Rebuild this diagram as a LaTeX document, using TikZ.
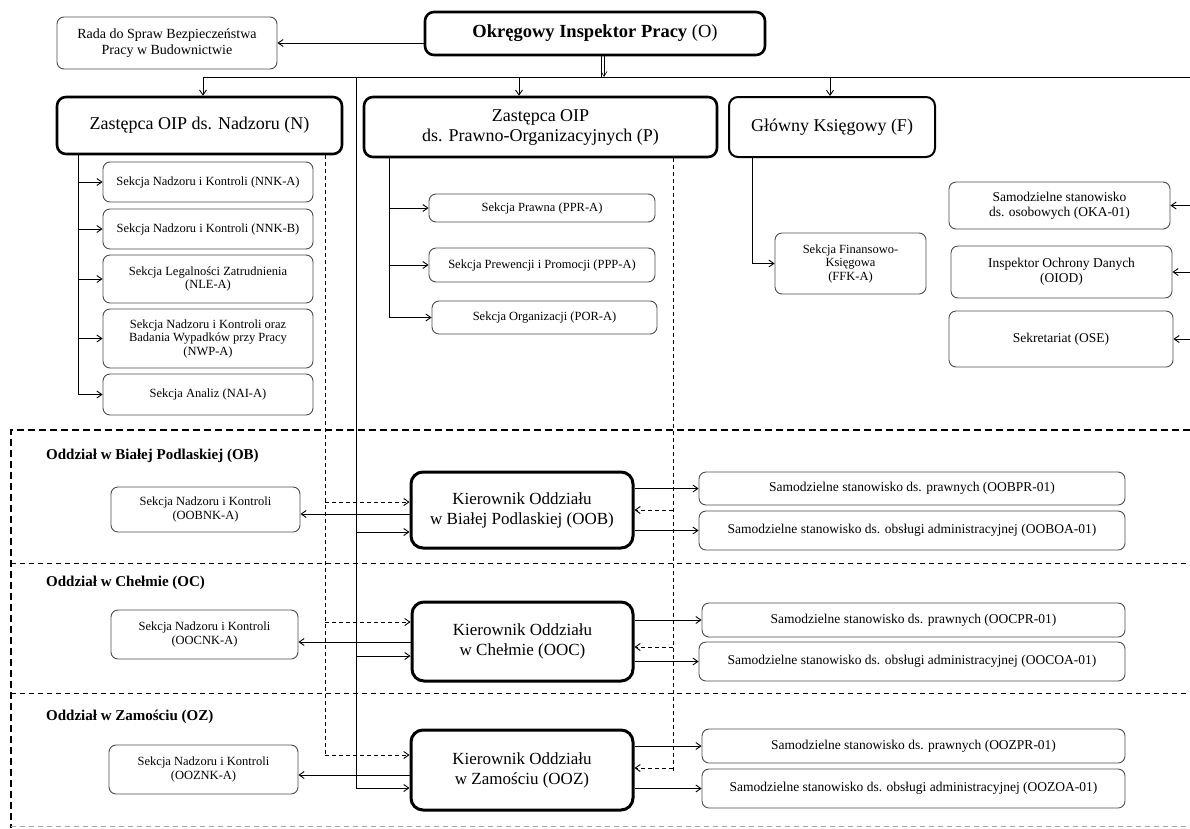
\documentclass[tikz,border=0pt]{standalone}
\usepackage{fontspec}
\setmainfont{Liberation Serif}
\usetikzlibrary{arrows.meta}

\begin{document}
\begin{tikzpicture}[
    x=1pt, y=-1pt,
    wym/.style 2 args={minimum width=#1pt, minimum height=#2pt},
    ramka/.style={draw, line width=2.6pt, rounded corners=9pt, align=center, inner sep=2pt},
    komorka/.style={draw=black!70, line width=0.9pt, rounded corners=7pt, align=center,
      inner sep=2pt, font=\fontsize{12.5}{13.5}\selectfont},
    stanowisko/.style={komorka, font=\fontsize{13.5}{15}\selectfont},
    kierownik/.style={ramka, line width=3pt, rounded corners=12pt, font=\fontsize{17}{20}\selectfont},
    linia/.style={line width=0.9pt},
    strzalka/.style={linia, -{Straight Barb[length=5pt,width=7pt]}},
    kreski/.style={dash pattern=on 4pt off 3pt},
    granica/.style={line width=1.5pt, dash pattern=on 7pt off 4pt},
    podzial/.style={line width=0.9pt, dash pattern=on 5pt off 4pt},
    oddzial/.style={anchor=west, inner sep=0pt, font=\fontsize{15}{17}\selectfont\bfseries}
  ]
  \useasboundingbox (0,0) rectangle (1190,828);
  % wszystkie współrzędne w pikselach obrazu (oś y w dół)

  % --- kierownictwo ---
  \node[ramka, wym={340}{43}, font=\fontsize{18.5}{20}\selectfont] (O) at (595,33.5)
    {\textbf{Okręgowy Inspektor Pracy} (O)};
  \node[komorka, wym={220}{52}, font=\fontsize{14}{15.5}\selectfont] (RADA) at (167,43)
    {Rada do Spraw Bezpieczeństwa\\Pracy w Budownictwie};
  \node[ramka, wym={285}{57}, font=\fontsize{18}{20}\selectfont] (N) at (199.5,125.5)
    {Zastępca OIP ds. Nadzoru (N)};
  \node[ramka, wym={353}{60}, font=\fontsize{18}{20}\selectfont] (P) at (540.5,127)
    {Zastępca OIP\\ds. Prawno-Organizacyjnych (P)};
  \node[ramka, line width=2pt, wym={206}{60}, font=\fontsize{18}{20}\selectfont] (F) at (832,127)
    {Główny Księgowy (F)};

  % --- szyna pod O ---
  \coordinate (szyna) at (603,77);
  \draw[strzalka] (RADA.east -| O.west) -- (RADA.east);
  \draw[line width=0.6pt] ([xshift=-2pt]O.south -| szyna) -- ([xshift=-2pt]szyna);
  \draw[line width=0.6pt, -{Straight Barb[length=5pt,width=6pt]}] ([xshift=1pt]O.south -| szyna) -- ([xshift=1pt]szyna);
  \draw[linia] (203,77) -- (1190,77);
  \foreach \cel/\xs in {N/203, P/519, F/830}{
    \draw[strzalka] (\xs,77) -- (\cel.north -| \xs,0);
  }

  % --- pion N: sekcje ---
  \foreach \nazwa/\yc/\h/\tekst in {
      NNKA/182/40/{Sekcja Nadzoru i Kontroli (NNK-A)},
      NNKB/229/40/{Sekcja Nadzoru i Kontroli (NNK-B)},
      NLEA/279/48/{Sekcja Legalności Zatrudnienia\\(NLE-A)},
      NWPA/338.5/59/{Sekcja Nadzoru i Kontroli oraz\\Badania Wypadków przy Pracy\\(NWP-A)},
      NAIA/394.5/41/{Sekcja Analiz (NAI-A)}}{
    \node[komorka, wym={210}{\h}] (\nazwa) at (208,\yc) {\tekst};
    \draw[strzalka] (78,0 |- \nazwa.west) -- (\nazwa.west);
  }
  \draw[linia] (N.south -| 78,0) -- (78,0 |- NAIA.west);

  % --- pion P: sekcje ---
  \foreach \nazwa/\xc/\yc/\w/\h/\tekst in {
      PPRA/542/208/226/28/{Sekcja Prawna (PPR-A)},
      PPPA/542/265/226/34/{Sekcja Prewencji i Promocji (PPP-A)},
      PORA/544.5/317.5/225/33/{Sekcja Organizacji (POR-A)}}{
    \node[komorka, wym={\w}{\h}] (\nazwa) at (\xc,\yc) {\tekst};
    \draw[strzalka] (389,0 |- \nazwa.west) -- (\nazwa.west);
  }
  \draw[linia] (P.south -| 389,0) -- (389,0 |- PORA.west);

  % --- pion F ---
  \node[komorka, wym={151}{61}] (FFKA) at (850.5,263.5) {Sekcja Finansowo-\\Księgowa\\(FFK-A)};
  \draw[strzalka] (F.south -| 752,0) |- (FFKA.west);

  % --- stanowiska przy O (linia poza kadrem) ---
  \node[stanowisko, wym={221}{47}] (OKA) at (1059.5,205.5) {Samodzielne stanowisko\\ds. osobowych (OKA-01)};
  \node[stanowisko, wym={221}{52}] (OIOD) at (1061.5,272) {Inspektor Ochrony Danych\\(OIOD)};
  \node[stanowisko, wym={224}{56}] (OSE) at (1061,339) {Sekretariat (OSE)};
  \foreach \cel in {OKA, OIOD, OSE}{
    \draw[strzalka] (1190,0 |- \cel.east) -- (\cel.east);
  }

  % --- oddziały: ramka i podziały ---
  \draw[granica] (1190,430) -- (11,430) -- (11,828);
  \draw[podzial] (11,563) -- (1190,563);
  \draw[podzial] (11,693) -- (1190,693);
  \draw[podzial, black!35] (11,826) -- (1190,826);
  \node[oddzial] (OB) at (46,456) {Oddział w Białej Podlaskiej (OB)};
  \node[oddzial] (OC) at (46,583) {Oddział w Chełmie (OC)};
  \node[oddzial] (OZ) at (46,717) {Oddział w Zamościu (OZ)};

  % --- kierownicy oddziałów ---
  \node[kierownik, wym={222}{76}] (OOB) at (522,510) {Kierownik Oddziału\\w Białej Podlaskiej (OOB)};
  \node[kierownik, wym={221}{79}] (OOC) at (522.5,641.5) {Kierownik Oddziału\\w Chełmie (OOC)};
  \node[kierownik, wym={222}{80}] (OOZ) at (522,770) {Kierownik Oddziału\\w Zamościu (OOZ)};

  % --- komórki oddziałów ---
  \node[komorka, wym={189}{45}] (OOBNK) at (205.5,509.5) {Sekcja Nadzoru i Kontroli\\(OOBNK-A)};
  \node[komorka, wym={187}{49}] (OOCNK) at (204.5,634.5) {Sekcja Nadzoru i Kontroli\\(OOCNK-A)};
  \node[komorka, wym={189}{49}] (OOZNK) at (203.5,769.5) {Sekcja Nadzoru i Kontroli\\(OOZNK-A)};
  \node[stanowisko, wym={426}{33}] (OOBPR) at (912,488.5) {Samodzielne stanowisko ds. prawnych (OOBPR-01)};
  \node[stanowisko, wym={426}{39}] (OOBOA) at (912,530.5) {Samodzielne stanowisko ds. obsługi administracyjnej (OOBOA-01)};
  \node[stanowisko, wym={423}{34}] (OOCPR) at (913.5,620) {Samodzielne stanowisko ds. prawnych (OOCPR-01)};
  \node[stanowisko, wym={426}{39}] (OOCOA) at (912,661.5) {Samodzielne stanowisko ds. obsługi administracyjnej (OOCOA-01)};
  \node[stanowisko, wym={423}{34}] (OOZPR) at (913.5,746) {Samodzielne stanowisko ds. prawnych (OOZPR-01)};
  \node[stanowisko, wym={423}{39}] (OOZOA) at (913.5,788.5) {Samodzielne stanowisko ds. obsługi administracyjnej (OOZOA-01)};

  % --- piony do oddziałów: ciągły od szyny, przerywane od N i P ---
  \draw[linia] (356,77) -- (356,788);
  \draw[linia, kreski] (N.south -| 325,0) -- (325,755);
  \draw[linia, kreski] (P.south -| 673,0) -- (673,773);
  \foreach \k/\nk/\pr/\oa/\ynk/\yl/\yd/\yp in {
      OOB/OOBNK/OOBPR/OOBOA/514/532/502/510,
      OOC/OOCNK/OOCPR/OOCOA/642/656/622/647,
      OOZ/OOZNK/OOZPR/OOZOA/775/788/755/768}{
    \draw[strzalka] (\k.west |- 0,\ynk) -- (\nk.east |- 0,\ynk);
    \draw[strzalka] (356,\yl) -- (\k.west |- 0,\yl);
    \draw[strzalka, kreski] (325,\yd) -- (\k.west |- 0,\yd);
    \draw[strzalka, kreski] (673,\yp) -- (\k.east |- 0,\yp);
    \draw[strzalka] (\k.east |- \pr.west) -- (\pr.west);
    \draw[strzalka] (\k.east |- \oa.west) -- (\oa.west);
  }
\end{tikzpicture}
\end{document}
